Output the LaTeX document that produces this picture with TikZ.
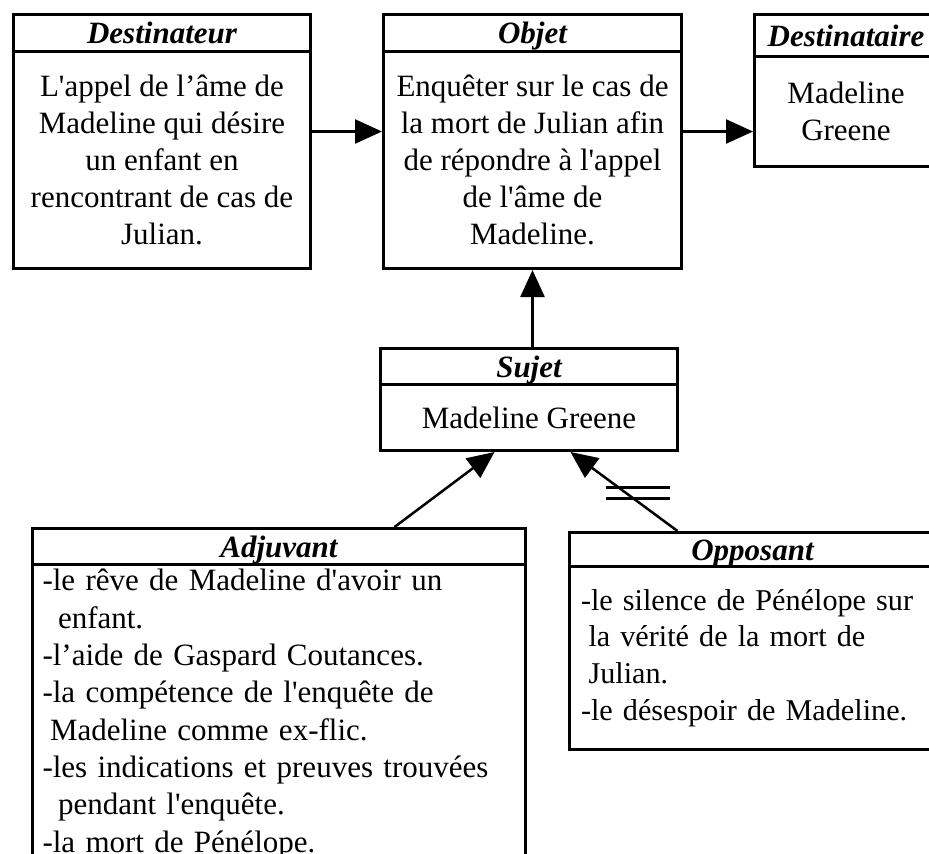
\documentclass[tikz,border=0pt]{standalone}
\usepackage{fontspec}
\setmainfont{Liberation Serif}[Ligatures=TeXOff]
\usetikzlibrary{arrows.meta}

\begin{document}
\begin{tikzpicture}[x=1pt,y=-1pt,
  box/.style={draw, line width=3pt, inner sep=0pt, anchor=north west},
  hdr/.style={box, text height=21pt, text depth=0pt,
    font=\fontsize{31}{36}\selectfont\bfseries\itshape},
  bdy/.style={box, font=\fontsize{31}{37}\selectfont, align=center},
  lst/.style={box, font=\fontsize{31}{37.3}\selectfont, align=left},
  arr/.style={line width=2.5pt, -{Triangle[length=27pt,width=24pt]}},
  bar/.style={line width=2.2pt}]
\useasboundingbox (0,0) rectangle (929,854);
\clip (0,0) rectangle (929,854);

% Destinateur
\node[hdr, minimum width=297pt, minimum height=37pt] (destH) at (12,13) {Destinateur};
\node[bdy, minimum width=297pt, minimum height=217pt] (destB) at (12,50)
  {L'appel de l’âme de\\Madeline qui désire\\un enfant en\\rencontrant de cas de\\Julian.};

% Objet
\node[hdr, minimum width=298pt, minimum height=37pt] (objH) at (382,13) {Objet};
\node[bdy, minimum width=298pt, minimum height=217pt] (objB) at (382,50)
  {Enquêter sur le cas de\\la mort de Julian afin\\de répondre à l'appel\\de l'âme de\\Madeline.};

% Destinataire
\node[hdr, minimum width=183pt, minimum height=42pt] (destaH) at (753,13) {Destinataire};
\node[bdy, minimum width=183pt, minimum height=110pt] (destaB) at (753,55)
  {Madeline\\Greene};

% Sujet
\node[hdr, minimum width=297pt, minimum height=36pt] (sujH) at (379,347) {Sujet};
\node[bdy, minimum width=297pt, minimum height=66pt] (sujB) at (379,383) {Madeline Greene};

% Adjuvant
\node[hdr, minimum width=493pt, minimum height=36pt] (adjH) at (31,527) {Adjuvant};
\node[lst, minimum width=493pt, minimum height=299pt, inner xsep=10pt, text width=473pt] (adjB) at (31,563)
  {-le rêve de Madeline d'avoir un\\
   \hspace*{15.5pt}enfant.\\
   -l’aide de Gaspard Coutances.\\
   -la compétence de l'enquête de\\
   \hspace*{7.5pt}Madeline comme ex-flic.\\
   -les indications et preuves trouvées\\
   \hspace*{15.5pt}pendant l'enquête.\\
   -la mort de Pénélope.};

% Opposant (its right side runs past the page edge)
\node[hdr, minimum width=366pt, minimum height=34pt] (oppH) at (568,531) {Opposant};
\node[lst, minimum width=366pt, minimum height=183pt, inner xsep=11.5pt, text width=400pt,
  font=\fontsize{30.2}{36.7}\selectfont] (oppB) at (568,565)
  {-le silence de Pénélope sur\\
   \hspace*{7.5pt}la vérité de la mort de\\
   \hspace*{7.5pt}Julian.\\
   -le désespoir de Madeline.};

% Connectors
\draw[arr] ([yshift=28.5pt]destB.east) -- ([yshift=28.5pt]objB.west);
\draw[arr] ([yshift=28.5pt]objB.east) -- ([yshift=-20pt]destaB.west);
\draw[arr] (sujH.north -| objB.south) -- (objB.south);
\draw[arr] ([xshift=115.5pt]adjH.north) -- ([xshift=-34.5pt]sujB.south);
\draw[arr] ([xshift=-75pt]oppH.north) -- coordinate[pos=0.48] (cut) ([xshift=41.5pt]sujB.south);
\draw[bar] ([shift={(-20,-5.5)}]cut) -- ([shift={(44,-5.5)}]cut);
\draw[bar] ([shift={(-20,5.5)}]cut) -- ([shift={(44,5.5)}]cut);
\end{tikzpicture}
\end{document}
